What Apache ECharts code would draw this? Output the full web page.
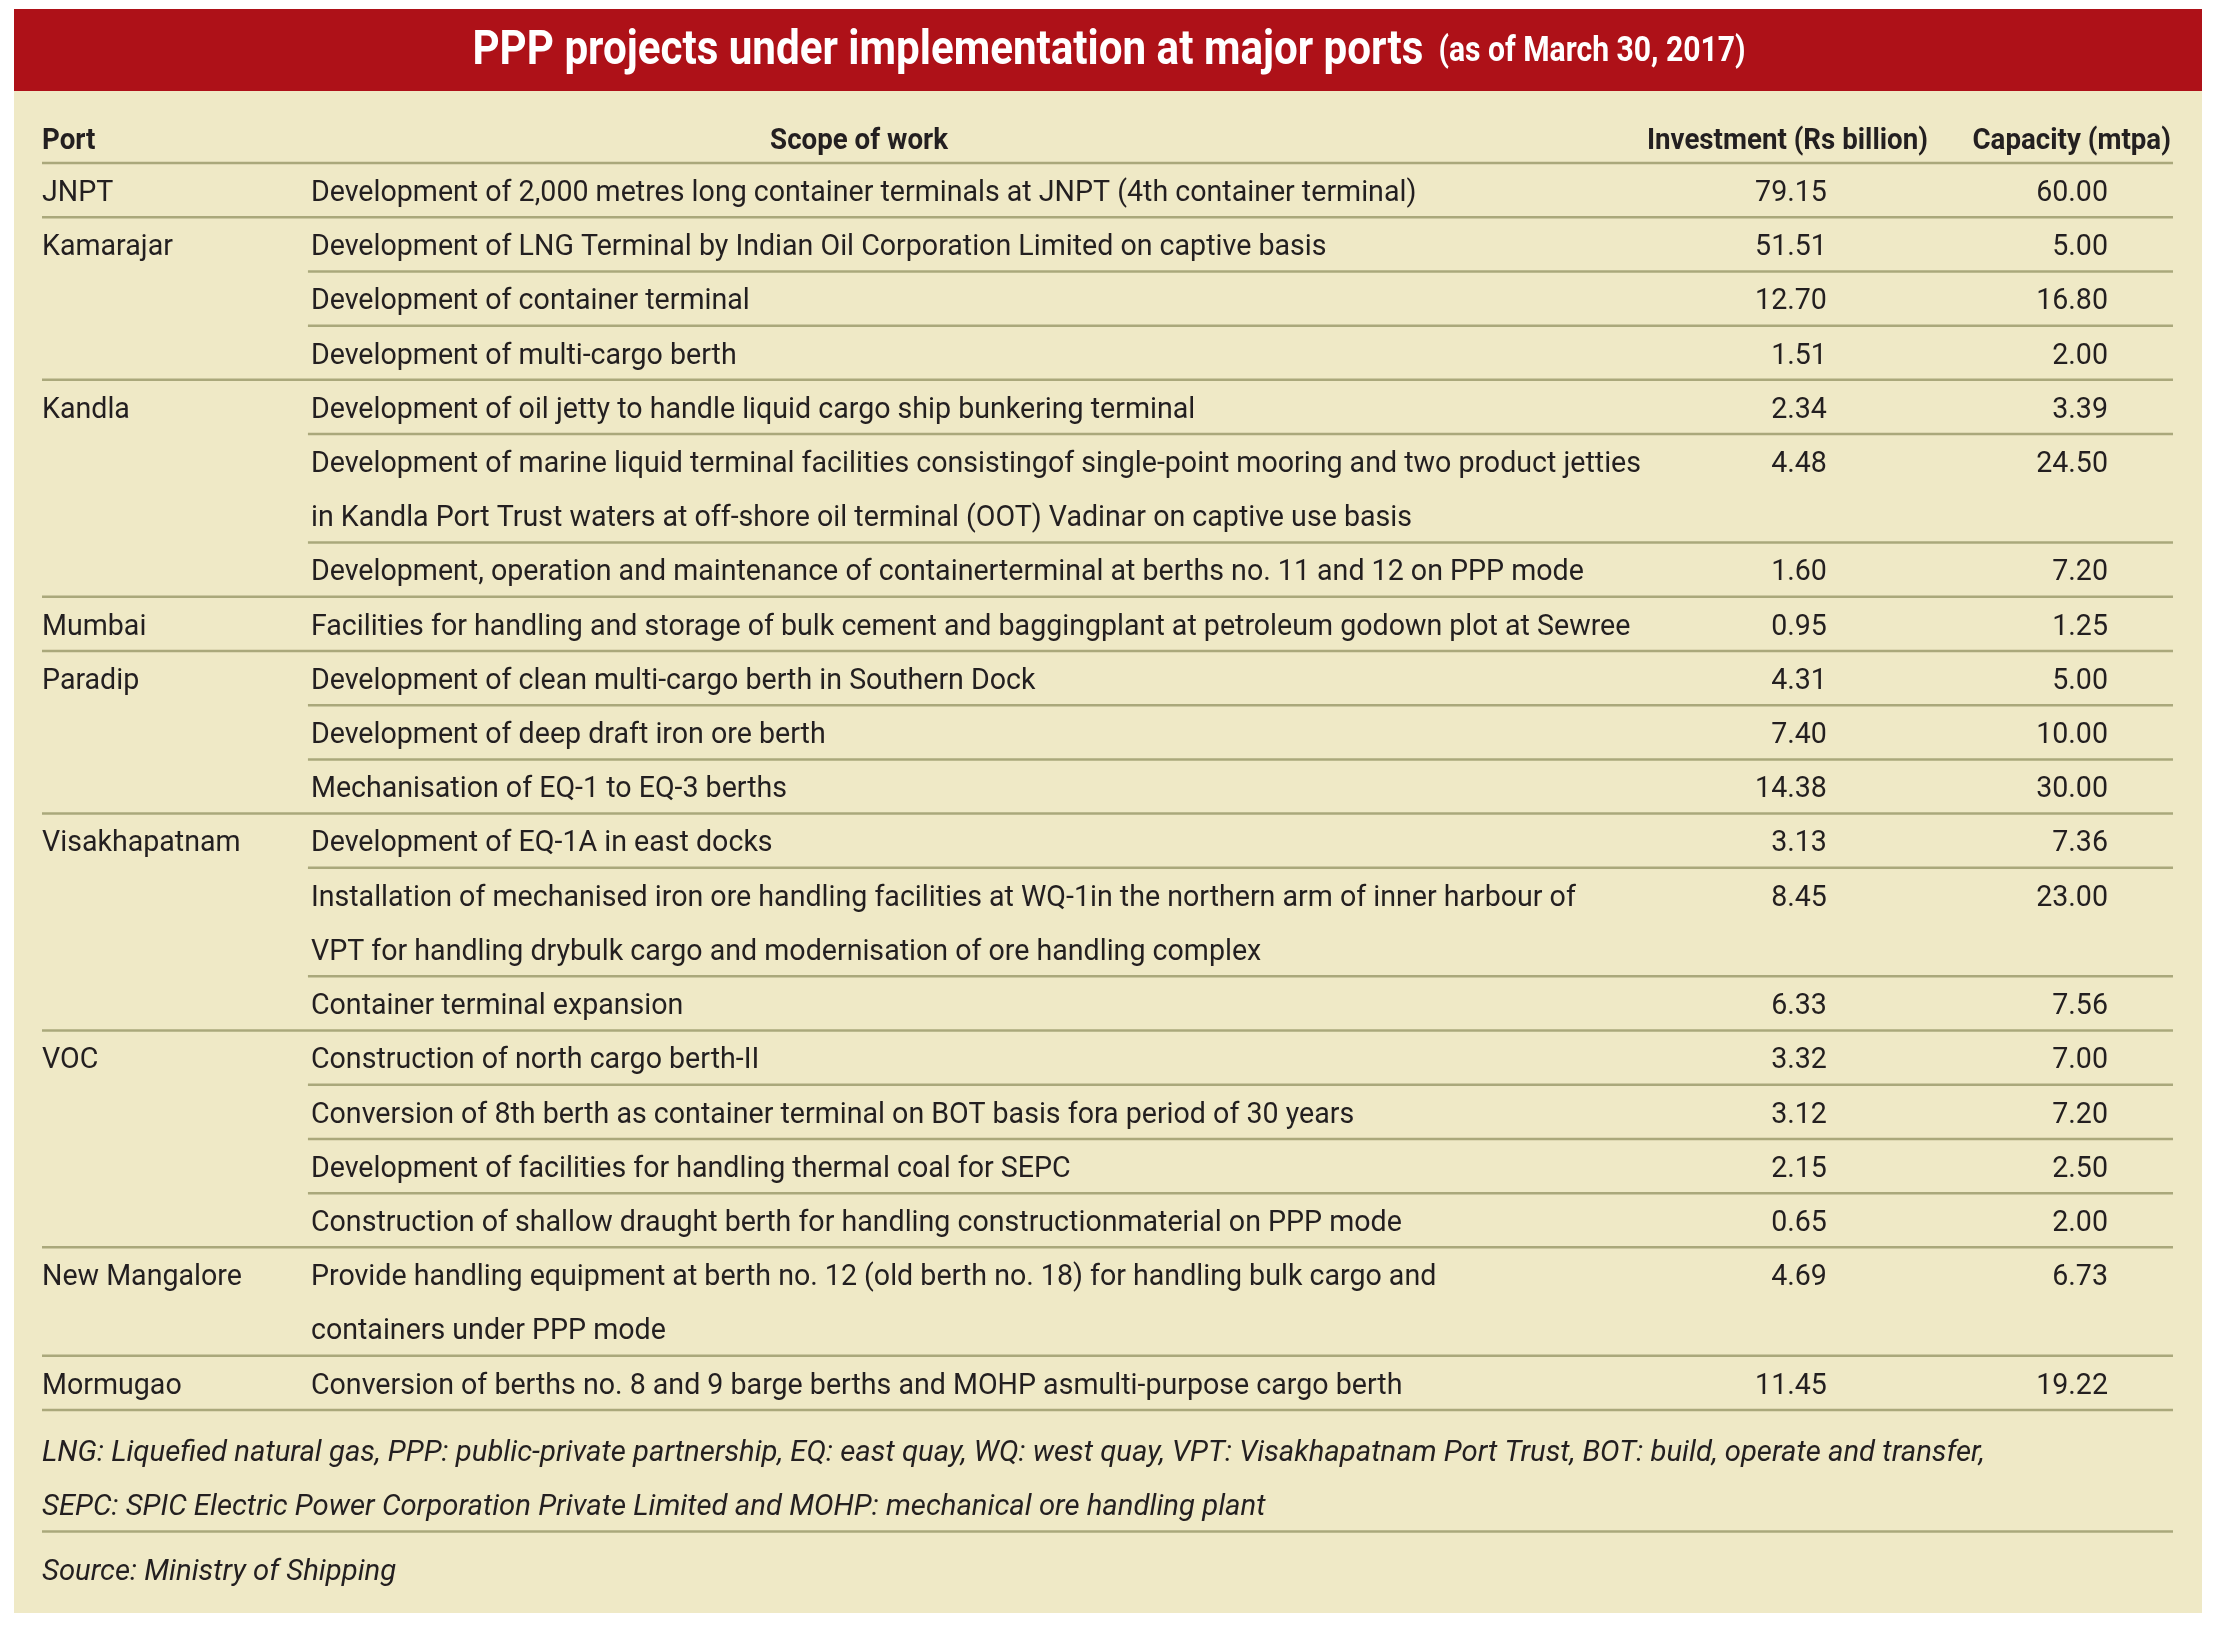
<!DOCTYPE html>
<html lang="en">
<head>
<meta charset="UTF-8">
<title>PPP projects under implementation at major ports</title>
<script src="https://cdn.jsdelivr.net/npm/echarts@6/dist/echarts.min.js"></script>
<style>
  html, body { margin: 0; padding: 0; background: #fff; }
  #chart { width: 2225px; height: 1631px; }
</style>
</head>
<body>
<div id="chart"></div>
<script>
// table contents, one entry per project row
var ports = ['JNPT', 'Kamarajar', '', '', 'Kandla', '', '', 'Mumbai', 'Paradip', '', '',
  'Visakhapatnam', '', '', 'VOC', '', '', '', 'New Mangalore', 'Mormugao'];

var scopes = [
  ['Development of 2,000 metres long container terminals at JNPT (4th container terminal)'],
  ['Development of LNG Terminal by Indian Oil Corporation Limited on captive basis'],
  ['Development of container terminal'],
  ['Development of multi-cargo berth'],
  ['Development of oil jetty to handle liquid cargo ship bunkering terminal'],
  ['Development of marine liquid terminal facilities consistingof single-point mooring and two product jetties',
   'in Kandla Port Trust waters at off-shore oil terminal (OOT) Vadinar on captive use basis'],
  ['Development, operation and maintenance of containerterminal at berths no. 11 and 12 on PPP mode'],
  ['Facilities for handling and storage of bulk cement and baggingplant at petroleum godown plot at Sewree'],
  ['Development of clean multi-cargo berth in Southern Dock'],
  ['Development of deep draft iron ore berth'],
  ['Mechanisation of EQ-1 to EQ-3 berths'],
  ['Development of EQ-1A in east docks'],
  ['Installation of mechanised iron ore handling facilities at WQ-1in the northern arm of inner harbour of',
   'VPT for handling drybulk cargo and modernisation of ore handling complex'],
  ['Container terminal expansion'],
  ['Construction of north cargo berth-II'],
  ['Conversion of 8th berth as container terminal on BOT basis fora period of 30 years'],
  ['Development of facilities for handling thermal coal for SEPC'],
  ['Construction of shallow draught berth for handling constructionmaterial on PPP mode'],
  ['Provide handling equipment at berth no. 12 (old berth no. 18) for handling bulk cargo and',
   'containers under PPP mode'],
  ['Conversion of berths no. 8 and 9 barge berths and MOHP asmulti-purpose cargo berth']
];

var investment = [79.15, 51.51, 12.70, 1.51, 2.34, 4.48, 1.60, 0.95, 4.31, 7.40, 14.38,
  3.13, 8.45, 6.33, 3.32, 3.12, 2.15, 0.65, 4.69, 11.45];

var capacity = [60.00, 5.00, 16.80, 2.00, 3.39, 24.50, 7.20, 1.25, 5.00, 10.00, 30.00,
  7.36, 23.00, 7.56, 7.00, 7.20, 2.50, 2.00, 6.73, 19.22];

var headers = ['Port', 'Scope of work', 'Investment (Rs billion)', 'Capacity (mtpa)'];

var notes = [
  'LNG: Liquefied natural gas, PPP: public-private partnership, EQ: east quay, WQ: west quay, VPT: Visakhapatnam Port Trust, BOT: build, operate and transfer,',
  'SEPC: SPIC Electric Power Corporation Private Limited and MOHP: mechanical ore handling plant'
];
var source = 'Source: Ministry of Shipping';

var titleMain = 'PPP projects under implementation at major ports';
var titleSub = '(as of March 30, 2017)';

// layout: x in percent of table width, y in text lines below the header rule
var COL = { port: 0, scope: 12.62, inv: 83.76, cap: 96.95, ruleFrom: 12.48,
  scopeHead: 38.34, invHead: 88.5, capHead: 99.9 };
var MID = 0.56;          // text centre inside a line
var SX = 0.953;          // horizontal squeeze, imitates a condensed face
var INK = '#231f20';
var RULE = '#aaa87b';
var FONT = 'Roboto';

// one record per row: [row, firstLine, lineCount]
var rows = [];
var line = 0;
for (var i = 0; i < scopes.length; i++) {
  rows.push([i, line, scopes[i].length]);
  line += scopes[i].length;
}
var totalLines = line;

var myChart = echarts.init(document.getElementById('chart'));

function txt(api, x, y, text, align, opt) {
  var p = api.coord([x, y]);
  opt = opt || {};
  return {
    type: 'text',
    x: p[0], y: p[1],
    scaleX: opt.sx || SX,
    style: {
      text: text, align: align, verticalAlign: 'middle',
      fill: INK, fontFamily: FONT,
      fontSize: opt.size || 30,
      fontWeight: opt.weight || 'normal',
      fontStyle: opt.style || 'normal'
    }
  };
}

function rule(api, x0, y, x1) {
  var a = api.coord([x0, y]);
  var b = api.coord([x1, y]);
  return {
    type: 'line',
    shape: { x1: a[0], y1: a[1], x2: b[0], y2: b[1] },
    style: { stroke: RULE, lineWidth: 2.5 }
  };
}

function renderRow(params, api) {
  var i = api.value(0), start = api.value(1), n = api.value(2);
  var kids = [];
  if (ports[i]) kids.push(txt(api, COL.port, start + MID, ports[i], 'left'));
  scopes[i].forEach(function (s, k) {
    kids.push(txt(api, COL.scope, start + k + MID, s, 'left'));
  });
  kids.push(txt(api, COL.inv, start + MID, investment[i].toFixed(2), 'right'));
  kids.push(txt(api, COL.cap, start + MID, capacity[i].toFixed(2), 'right'));
  // full rule closes a port group, short rule between projects of one port
  var last = (i === ports.length - 1) || ports[i + 1] !== '';
  kids.push(rule(api, last ? 0 : COL.ruleFrom, start + n, 100));
  return { type: 'group', children: kids };
}

function renderHead(params, api) {
  var y = -0.39;
  var o = { weight: 'bold', sx: 0.923 };
  return {
    type: 'group',
    children: [
      txt(api, COL.port, y, headers[0], 'left', o),
      txt(api, COL.scopeHead, y, headers[1], 'center', o),
      txt(api, COL.invHead, y, headers[2], 'right', o),
      txt(api, COL.capHead, y, headers[3], 'right', o),
      rule(api, 0, 0, 100)
    ]
  };
}

function renderFoot(params, api) {
  var o = { style: 'italic', size: 29, sx: 1.01 };
  var base = totalLines;
  return {
    type: 'group',
    children: [
      txt(api, 0, base + 0.80, notes[0], 'left', o),
      txt(api, 0, base + 1.80, notes[1], 'left', o),
      rule(api, 0, base + 2.24, 100),
      txt(api, 0, base + 3.01, source, 'left', o)
    ]
  };
}

var option = {
  animation: false,
  backgroundColor: '#ffffff',
  grid: { left: 42, right: 52, top: 163, bottom: 1631 - 1410 },
  xAxis: { type: 'value', min: 0, max: 100, show: false },
  yAxis: { type: 'value', min: 0, max: totalLines, inverse: true, show: false },
  graphic: [
    { type: 'rect', z: -10, shape: { x: 14, y: 91, width: 2188, height: 1522 },
      style: { fill: '#efe9c6' } },
    { type: 'rect', z: -10, shape: { x: 14, y: 9, width: 2188, height: 82 },
      style: { fill: '#ae1118' } },
    { type: 'text', z: 5, x: 1109, y: 52, scaleX: 0.86,
      style: {
        text: '{a|' + titleMain + '}{b|  ' + titleSub + '}',
        align: 'center', verticalAlign: 'middle',
        rich: {
          a: { fontFamily: FONT, fontWeight: 'bold', fontSize: 49, fill: '#fff' },
          b: { fontFamily: FONT, fontWeight: 'bold', fontSize: 35, fill: '#fff' }
        }
      } }
  ],
  series: [
    { type: 'custom', renderItem: renderHead, data: [[0]], silent: true },
    { type: 'custom', renderItem: renderRow, data: rows, silent: true },
    { type: 'custom', renderItem: renderFoot, data: [[0]], silent: true }
  ]
};

myChart.setOption(option);
</script>
</body>
</html>
